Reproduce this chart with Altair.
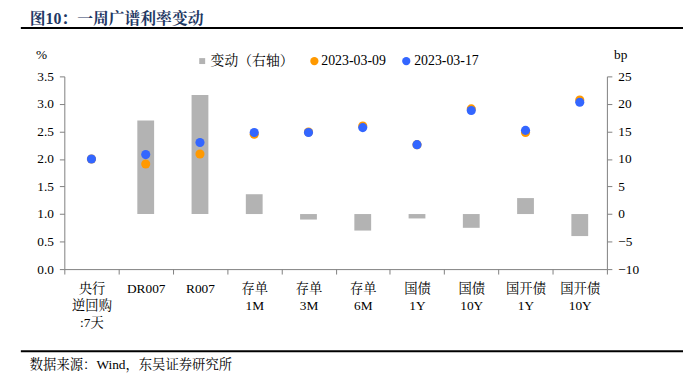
import altair as alt
import pandas as pd

# ---- data ----
categories = ["央行|逆回购|:7天", "DR007", "R007", "存单|1M", "存单|3M", "存单|6M",
              "国债|1Y", "国债|10Y", "国开债|1Y", "国开债|10Y"]
rate_0309 = [2.00, 1.91, 2.09, 2.45, 2.49, 2.60, 2.26, 2.91, 2.48, 3.07]
rate_0317 = [2.00, 2.08, 2.30, 2.48, 2.48, 2.57, 2.26, 2.88, 2.52, 3.03]
change_bp = [0.0, 17.0, 21.6, 3.6, -1.0, -3.0, -0.8, -2.5, 2.9, -4.0]
series_names = ["2023-03-09", "2023-03-17"]
left_ticks = [0.0, 0.5, 1.0, 1.5, 2.0, 2.5, 3.0, 3.5]
right_ticks = [-10, -5, 0, 5, 10, 15, 20, 25]

FONT = "Times New Roman, Liberation Serif, Noto Serif CJK SC, Noto Sans CJK SC, serif"
ORANGE = "#FF9900"
BLUE = "#3366FF"
GRAY = "#B3B3B3"
AX = "#808080"

bars_df = pd.DataFrame({"cat": categories, "chg": change_bp})
pts_df = pd.DataFrame({
    "cat": categories * 2,
    "rate": rate_0309 + rate_0317,
    "series": [series_names[0]] * len(categories) + [series_names[1]] * len(categories),
})

xenc = alt.X("cat:N", sort=categories,
             scale=alt.Scale(paddingInner=0, paddingOuter=0),
             axis=alt.Axis(title=None, labelAngle=0, tickBand="extent",
                           labelExpr="split(datum.label, '|')",
                           labelLineHeight=17, labelPadding=8, labelBaseline="top",
                           domainColor=AX, tickColor=AX, tickSize=5,
                           labelFont=FONT, labelFontSize=13.5, labelColor="#000"))

bars = alt.Chart(bars_df).mark_bar(size=17, color=GRAY).encode(
    x=xenc,
    y=alt.Y("chg:Q", scale=alt.Scale(domain=[-10, 25], nice=False),
            axis=alt.Axis(orient="right", title=None, values=right_ticks, grid=False,
                          domainColor=AX, tickColor=AX, tickSize=5, labelPadding=6,
                          labelFont=FONT, labelFontSize=13.5, labelColor="#000")),
)

pts = alt.Chart(pts_df).mark_circle(size=85, opacity=1).encode(
    x=alt.X("cat:N", sort=categories),
    y=alt.Y("rate:Q", scale=alt.Scale(domain=[0, 3.5], nice=False),
            axis=alt.Axis(orient="left", title=None, values=left_ticks, format=".1f", grid=False,
                          domainColor=AX, tickColor=AX, tickSize=5, labelPadding=6,
                          labelFont=FONT, labelFontSize=13.5, labelColor="#000")),
    color=alt.Color("series:N", scale=alt.Scale(domain=series_names, range=[ORANGE, BLUE]),
                    legend=None),
    order=alt.Order("series:N", sort="ascending"),
)

one = pd.DataFrame({"a": [0]})

def txt(s, x, y, size=13, align="left", bold=False, color="#000"):
    return alt.Chart(one).mark_text(text=s, align=align, baseline="middle", font=FONT,
                                    fontSize=size, fontWeight="bold" if bold else "normal",
                                    color=color).encode(x=alt.value(x), y=alt.value(y))

title = txt("图10：一周广谱利率变动", -35, -58, size=16, bold=True, color="#1F3864")
top_line = alt.Chart(one).mark_rule(color="#000", strokeWidth=2).encode(
    x=alt.value(-44), x2=alt.value(626), y=alt.value(-49))
bot_line = alt.Chart(one).mark_rule(color="#000", strokeWidth=2).encode(
    x=alt.value(-44), x2=alt.value(626), y=alt.value(278))
source = txt("数据来源：Wind，东吴证券研究所", -35, 292, size=13.5)
pct = txt("%", -23, -22, size=13.5, align="center")
bp = txt("bp", 563, -22, size=13.5, align="center")

leg_sq = alt.Chart(one).mark_square(size=36, color=GRAY, opacity=1).encode(
    x=alt.value(139.5), y=alt.value(-15.5))
leg_t1 = txt("变动（右轴）", 148, -15.5, size=14)
leg_c1 = alt.Chart(one).mark_circle(size=70, color=ORANGE, opacity=1).encode(
    x=alt.value(253), y=alt.value(-15.5))
leg_t2 = txt(series_names[0], 260, -15.5, size=14)
leg_c2 = alt.Chart(one).mark_circle(size=70, color=BLUE, opacity=1).encode(
    x=alt.value(346), y=alt.value(-15.5))
leg_t3 = txt(series_names[1], 354, -15.5, size=14)

chart = alt.layer(
    bars, pts, title, top_line, bot_line, source, pct, bp,
    leg_sq, leg_t1, leg_c1, leg_t2, leg_c2, leg_t3,
).resolve_scale(y="independent").properties(
    width=549, height=195,
    autosize=alt.AutoSizeParams(type="none"),
    padding={"left": 57, "top": 67, "right": 77, "bottom": 110},
).configure_view(stroke=None)

chart.save("out.html", embed_options={"renderer": "svg", "actions": False})
